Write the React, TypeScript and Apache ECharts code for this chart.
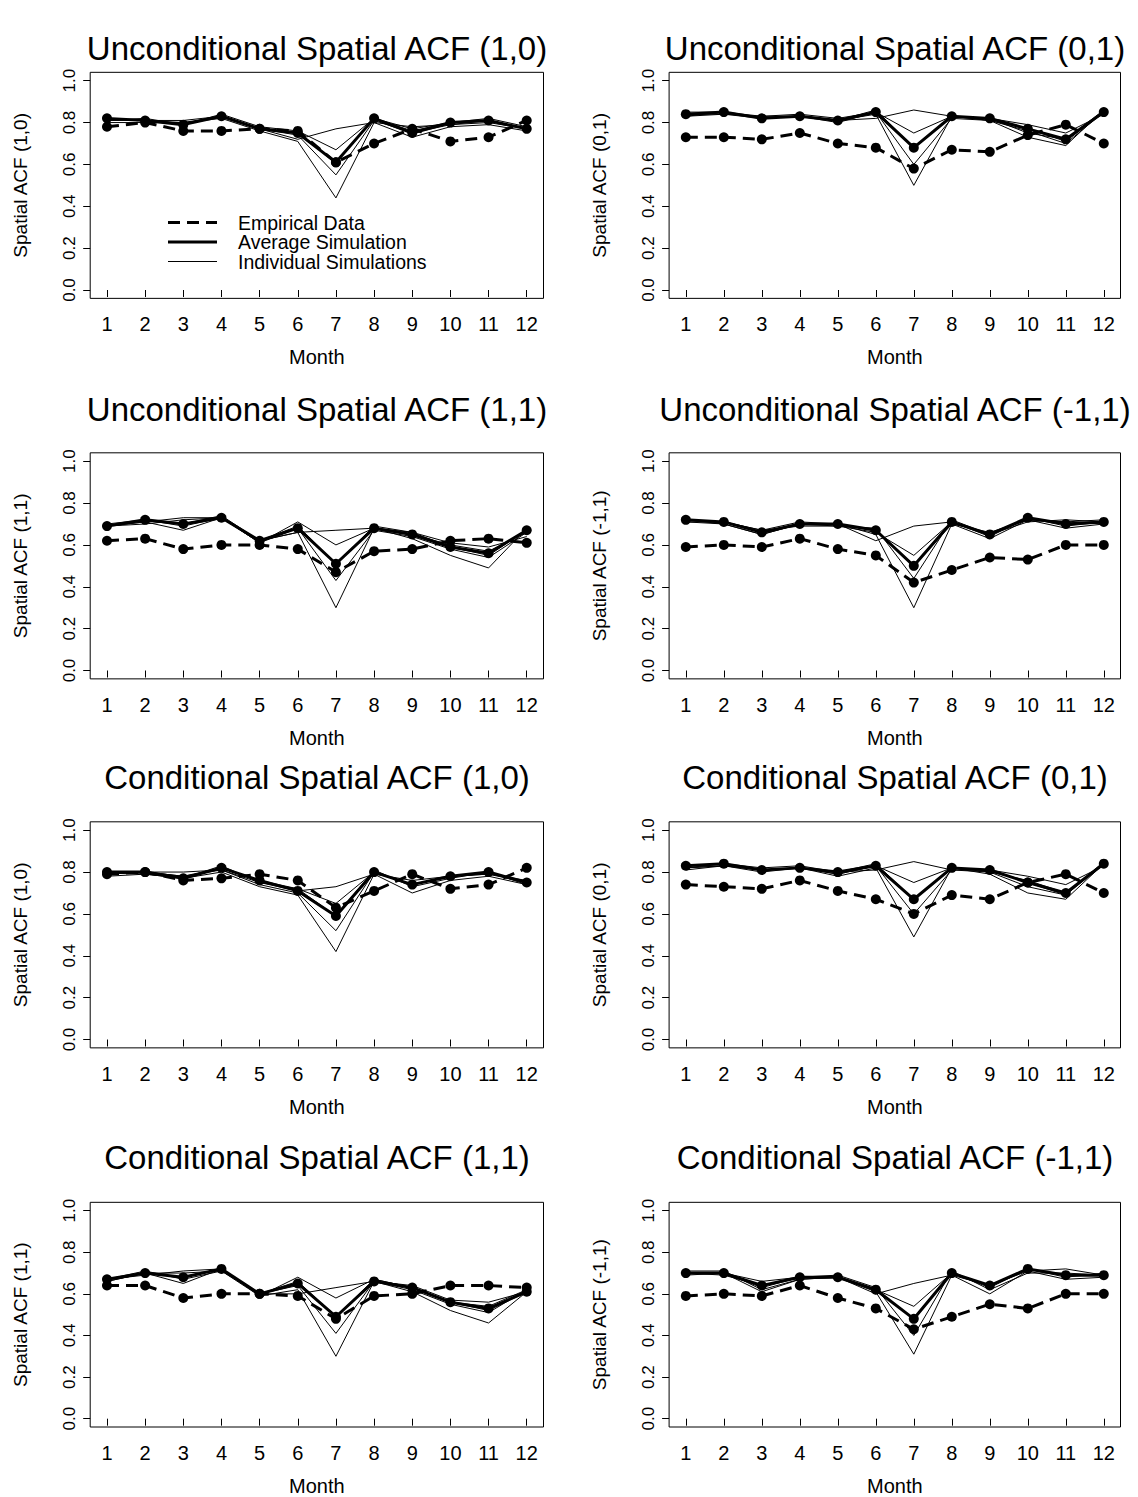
import React, { useEffect, useRef } from "react";
import * as echarts from "echarts";

// ---------- data ----------
const months = [1, 2, 3, 4, 5, 6, 7, 8, 9, 10, 11, 12];
const yTicks = [0, 0.2, 0.4, 0.6, 0.8, 1.0];
const legendLabels = ["Empirical Data", "Average Simulation", "Individual Simulations"];

const titles = [
  "Unconditional Spatial ACF (1,0)",
  "Unconditional Spatial ACF (0,1)",
  "Unconditional Spatial ACF (1,1)",
  "Unconditional Spatial ACF (-1,1)",
  "Conditional Spatial ACF (1,0)",
  "Conditional Spatial ACF (0,1)",
  "Conditional Spatial ACF (1,1)",
  "Conditional Spatial ACF (-1,1)",
];
const yLabels = [
  "Spatial ACF (1,0)",
  "Spatial ACF (0,1)",
  "Spatial ACF (1,1)",
  "Spatial ACF (-1,1)",
  "Spatial ACF (1,0)",
  "Spatial ACF (0,1)",
  "Spatial ACF (1,1)",
  "Spatial ACF (-1,1)",
];

// Unconditional (1,0)
const empU10 = [0.78, 0.8, 0.76, 0.76, 0.77, 0.76, 0.61, 0.7, 0.77, 0.71, 0.73, 0.81];
const avgU10 = [0.82, 0.81, 0.79, 0.83, 0.77, 0.75, 0.61, 0.82, 0.75, 0.8, 0.81, 0.77];
const indU10 = [
  [0.81, 0.81, 0.81, 0.83, 0.77, 0.72, 0.77, 0.8, 0.78, 0.79, 0.8, 0.77],
  [0.82, 0.81, 0.79, 0.84, 0.78, 0.76, 0.67, 0.82, 0.77, 0.8, 0.81, 0.77],
  [0.82, 0.81, 0.8, 0.83, 0.77, 0.75, 0.61, 0.82, 0.76, 0.8, 0.82, 0.78],
  [0.81, 0.82, 0.79, 0.83, 0.77, 0.74, 0.55, 0.81, 0.75, 0.79, 0.81, 0.77],
  [0.8, 0.8, 0.8, 0.82, 0.76, 0.71, 0.44, 0.8, 0.73, 0.78, 0.79, 0.76],
];

// Unconditional (0,1)
const empU01 = [0.73, 0.73, 0.72, 0.75, 0.7, 0.68, 0.58, 0.67, 0.66, 0.74, 0.79, 0.7];
const avgU01 = [0.84, 0.85, 0.82, 0.83, 0.81, 0.85, 0.68, 0.83, 0.82, 0.77, 0.72, 0.85];
const indU01 = [
  [0.83, 0.84, 0.82, 0.83, 0.81, 0.82, 0.86, 0.83, 0.82, 0.79, 0.75, 0.84],
  [0.84, 0.85, 0.83, 0.84, 0.82, 0.85, 0.75, 0.83, 0.81, 0.77, 0.71, 0.85],
  [0.85, 0.85, 0.82, 0.83, 0.81, 0.86, 0.68, 0.83, 0.82, 0.75, 0.72, 0.86],
  [0.84, 0.84, 0.83, 0.83, 0.8, 0.85, 0.6, 0.82, 0.81, 0.76, 0.7, 0.85],
  [0.83, 0.85, 0.82, 0.83, 0.81, 0.84, 0.5, 0.83, 0.81, 0.73, 0.69, 0.86],
];

// Unconditional (1,1)
const empU11 = [0.62, 0.63, 0.58, 0.6, 0.6, 0.58, 0.47, 0.57, 0.58, 0.62, 0.63, 0.61];
const avgU11 = [0.69, 0.72, 0.7, 0.73, 0.62, 0.68, 0.51, 0.68, 0.65, 0.59, 0.56, 0.67];
const indU11 = [
  [0.69, 0.7, 0.72, 0.73, 0.62, 0.66, 0.67, 0.68, 0.66, 0.61, 0.59, 0.64],
  [0.69, 0.71, 0.73, 0.73, 0.61, 0.71, 0.6, 0.68, 0.65, 0.6, 0.57, 0.66],
  [0.7, 0.72, 0.7, 0.74, 0.62, 0.69, 0.51, 0.69, 0.66, 0.59, 0.55, 0.67],
  [0.69, 0.72, 0.69, 0.73, 0.61, 0.68, 0.43, 0.67, 0.64, 0.58, 0.54, 0.66],
  [0.69, 0.71, 0.67, 0.73, 0.62, 0.66, 0.3, 0.68, 0.63, 0.55, 0.49, 0.68],
];

// Unconditional (-1,1)
const empUm11 = [0.59, 0.6, 0.59, 0.63, 0.58, 0.55, 0.42, 0.48, 0.54, 0.53, 0.6, 0.6];
const avgUm11 = [0.72, 0.71, 0.66, 0.7, 0.7, 0.67, 0.5, 0.71, 0.65, 0.73, 0.7, 0.71];
const indUm11 = [
  [0.72, 0.71, 0.67, 0.71, 0.7, 0.62, 0.69, 0.71, 0.65, 0.72, 0.71, 0.7],
  [0.71, 0.7, 0.65, 0.7, 0.69, 0.66, 0.55, 0.71, 0.64, 0.73, 0.69, 0.71],
  [0.72, 0.71, 0.66, 0.7, 0.7, 0.67, 0.5, 0.7, 0.66, 0.72, 0.71, 0.72],
  [0.71, 0.71, 0.67, 0.69, 0.69, 0.68, 0.44, 0.72, 0.65, 0.71, 0.72, 0.71],
  [0.72, 0.7, 0.65, 0.7, 0.7, 0.65, 0.3, 0.7, 0.63, 0.72, 0.68, 0.7],
];

// Conditional (1,0)
const empC10 = [0.79, 0.8, 0.76, 0.77, 0.79, 0.76, 0.63, 0.71, 0.79, 0.72, 0.74, 0.82];
const avgC10 = [0.8, 0.8, 0.77, 0.82, 0.76, 0.71, 0.59, 0.8, 0.74, 0.78, 0.8, 0.75];
const indC10 = [
  [0.79, 0.8, 0.8, 0.81, 0.75, 0.71, 0.73, 0.79, 0.76, 0.78, 0.79, 0.75],
  [0.8, 0.8, 0.78, 0.82, 0.76, 0.72, 0.65, 0.8, 0.74, 0.78, 0.8, 0.74],
  [0.8, 0.79, 0.77, 0.83, 0.75, 0.72, 0.59, 0.81, 0.73, 0.77, 0.8, 0.75],
  [0.79, 0.8, 0.78, 0.81, 0.74, 0.7, 0.52, 0.8, 0.74, 0.78, 0.79, 0.76],
  [0.78, 0.79, 0.77, 0.8, 0.73, 0.69, 0.42, 0.79, 0.7, 0.76, 0.78, 0.74],
];

// Conditional (0,1)
const empC01 = [0.74, 0.73, 0.72, 0.76, 0.71, 0.67, 0.6, 0.69, 0.67, 0.75, 0.79, 0.7];
const avgC01 = [0.83, 0.84, 0.81, 0.82, 0.8, 0.83, 0.67, 0.82, 0.81, 0.75, 0.7, 0.84];
const indC01 = [
  [0.82, 0.83, 0.81, 0.82, 0.8, 0.81, 0.85, 0.81, 0.81, 0.78, 0.74, 0.83],
  [0.83, 0.84, 0.81, 0.82, 0.79, 0.83, 0.75, 0.82, 0.8, 0.76, 0.7, 0.84],
  [0.82, 0.84, 0.82, 0.83, 0.8, 0.84, 0.67, 0.82, 0.81, 0.75, 0.69, 0.85],
  [0.82, 0.83, 0.81, 0.82, 0.79, 0.83, 0.6, 0.81, 0.8, 0.73, 0.69, 0.84],
  [0.81, 0.83, 0.8, 0.82, 0.78, 0.82, 0.49, 0.82, 0.79, 0.7, 0.67, 0.84],
];

// Conditional (1,1)
const empC11 = [0.64, 0.64, 0.58, 0.6, 0.6, 0.59, 0.48, 0.59, 0.6, 0.64, 0.64, 0.63];
const avgC11 = [0.67, 0.7, 0.68, 0.72, 0.6, 0.65, 0.49, 0.66, 0.63, 0.56, 0.53, 0.61];
const indC11 = [
  [0.67, 0.69, 0.71, 0.72, 0.6, 0.6, 0.63, 0.66, 0.64, 0.57, 0.56, 0.61],
  [0.67, 0.7, 0.7, 0.71, 0.59, 0.68, 0.58, 0.67, 0.63, 0.56, 0.54, 0.62],
  [0.66, 0.7, 0.68, 0.72, 0.6, 0.66, 0.49, 0.67, 0.63, 0.56, 0.52, 0.61],
  [0.67, 0.71, 0.67, 0.71, 0.6, 0.64, 0.41, 0.66, 0.62, 0.55, 0.51, 0.62],
  [0.66, 0.7, 0.65, 0.72, 0.59, 0.62, 0.3, 0.66, 0.61, 0.52, 0.46, 0.61],
];

// Conditional (-1,1)
const empCm11 = [0.59, 0.6, 0.59, 0.64, 0.58, 0.53, 0.43, 0.49, 0.55, 0.53, 0.6, 0.6];
const avgCm11 = [0.7, 0.7, 0.64, 0.68, 0.68, 0.62, 0.48, 0.7, 0.64, 0.72, 0.69, 0.69];
const indCm11 = [
  [0.7, 0.7, 0.66, 0.68, 0.68, 0.6, 0.65, 0.69, 0.64, 0.71, 0.72, 0.69],
  [0.7, 0.7, 0.63, 0.68, 0.68, 0.62, 0.54, 0.7, 0.63, 0.72, 0.69, 0.69],
  [0.71, 0.71, 0.62, 0.67, 0.68, 0.62, 0.48, 0.7, 0.64, 0.72, 0.68, 0.7],
  [0.7, 0.69, 0.64, 0.68, 0.69, 0.63, 0.4, 0.71, 0.62, 0.7, 0.7, 0.69],
  [0.69, 0.7, 0.61, 0.67, 0.68, 0.61, 0.31, 0.69, 0.6, 0.71, 0.67, 0.68],
];

const empirical = [empU10, empU01, empU11, empUm11, empC10, empC01, empC11, empCm11];
const average = [avgU10, avgU01, avgU11, avgUm11, avgC10, avgC01, avgC11, avgCm11];
const individual = [indU10, indU01, indU11, indUm11, indC10, indC01, indC11, indCm11];

// ---------- layout ----------
const FONT = "'Liberation Sans', Arial, Helvetica, sans-serif";
const colLeft = [90.2, 669.1];
const colWidth = [453.3, 451.4];
const colCenter = [317, 895];
const rowZero = [290, 670.5, 1039.5, 1420];
const titleY = [48, 409, 777, 1157];
const unitY = 209.3;

function buildOption() {
  const grid: any[] = [];
  const xAxis: any[] = [];
  const yAxis: any[] = [];
  const series: any[] = [];
  const graphic: any[] = [];

  for (let i = 0; i < 8; i++) {
    const row = Math.floor(i / 2);
    const col = i % 2;
    grid.push({
      left: colLeft[col],
      top: rowZero[row] - 1.04 * unitY,
      width: colWidth[col],
      height: 1.08 * unitY,
      show: true,
      borderColor: "#000",
      borderWidth: 1,
      backgroundColor: "transparent",
      containLabel: false,
    });
    xAxis.push({
      gridIndex: i,
      type: "value",
      min: 0.56,
      max: 12.44,
      axisLine: { show: false },
      splitLine: { show: false },
      axisTick: {
        show: true,
        customValues: months,
        length: 7,
        lineStyle: { color: "#000", width: 1 },
      },
      axisLabel: {
        customValues: months,
        fontSize: 20,
        color: "#000",
        fontFamily: FONT,
        margin: 16,
      },
      name: "Month",
      nameLocation: "middle",
      nameGap: 49,
      nameTextStyle: { fontSize: 20, color: "#000", fontFamily: FONT },
    });
    yAxis.push({
      gridIndex: i,
      type: "value",
      min: -0.04,
      max: 1.04,
      axisLine: { show: false },
      splitLine: { show: false },
      axisTick: {
        show: true,
        customValues: yTicks,
        length: 7,
        lineStyle: { color: "#000", width: 1 },
      },
      axisLabel: {
        customValues: yTicks,
        rotate: 90,
        fontSize: 17,
        color: "#000",
        fontFamily: FONT,
        margin: 12,
        formatter: (v: number) => v.toFixed(1),
      },
      name: yLabels[i],
      nameLocation: "middle",
      nameRotate: 90,
      nameGap: 60,
      nameTextStyle: { fontSize: 19, color: "#000", fontFamily: FONT },
    });

    const toPts = (arr: number[]) => months.map((m, k) => [m, arr[k]]);
    individual[i].forEach((arr) => {
      series.push({
        type: "line",
        name: "Individual Simulations",
        xAxisIndex: i,
        yAxisIndex: i,
        data: toPts(arr),
        symbol: "none",
        lineStyle: { color: "#000", width: 1 },
        z: 2,
        silent: true,
      });
    });
    series.push({
      type: "line",
      name: "Average Simulation",
      xAxisIndex: i,
      yAxisIndex: i,
      data: toPts(average[i]),
      symbol: "circle",
      symbolSize: 10,
      itemStyle: { color: "#000" },
      lineStyle: { color: "#000", width: 3 },
      z: 3,
      silent: true,
    });
    series.push({
      type: "line",
      name: "Empirical Data",
      xAxisIndex: i,
      yAxisIndex: i,
      data: toPts(empirical[i]),
      symbol: "circle",
      symbolSize: 10,
      itemStyle: { color: "#000" },
      lineStyle: { color: "#000", width: 3, type: [12, 7] },
      z: 4,
      silent: true,
    });

    graphic.push({
      type: "text",
      x: colCenter[col],
      y: titleY[row],
      style: {
        text: titles[i],
        fontSize: 33,
        fontFamily: FONT,
        fill: "#000",
        align: "center",
        verticalAlign: "middle",
      },
    });
  }

  // legend inside first panel
  const legY = [222.5, 242, 261.5];
  const legStyles = [
    { lineWidth: 3, lineDash: [12, 7] },
    { lineWidth: 3 },
    { lineWidth: 1 },
  ];
  legendLabels.forEach((lab, k) => {
    graphic.push({
      type: "line",
      shape: { x1: 168, y1: legY[k], x2: 217, y2: legY[k] },
      style: { stroke: "#000", ...legStyles[k] },
    });
    graphic.push({
      type: "text",
      x: 238,
      y: legY[k],
      style: {
        text: lab,
        fontSize: 19.5,
        fontFamily: FONT,
        fill: "#000",
        align: "left",
        verticalAlign: "middle",
      },
    });
  });

  return {
    animation: false,
    backgroundColor: "#fff",
    grid,
    xAxis,
    yAxis,
    series,
    graphic,
  };
}

export default function App() {
  const ref = useRef<HTMLDivElement>(null);
  useEffect(() => {
    if (!ref.current) return;
    const chart = echarts.init(ref.current, undefined, { renderer: "svg" });
    chart.setOption(buildOption());
    return () => chart.dispose();
  }, []);
  return (
    <div
      ref={ref}
      style={{ position: "absolute", left: 0, top: 0, width: 1138, height: 1497 }}
    />
  );
}
